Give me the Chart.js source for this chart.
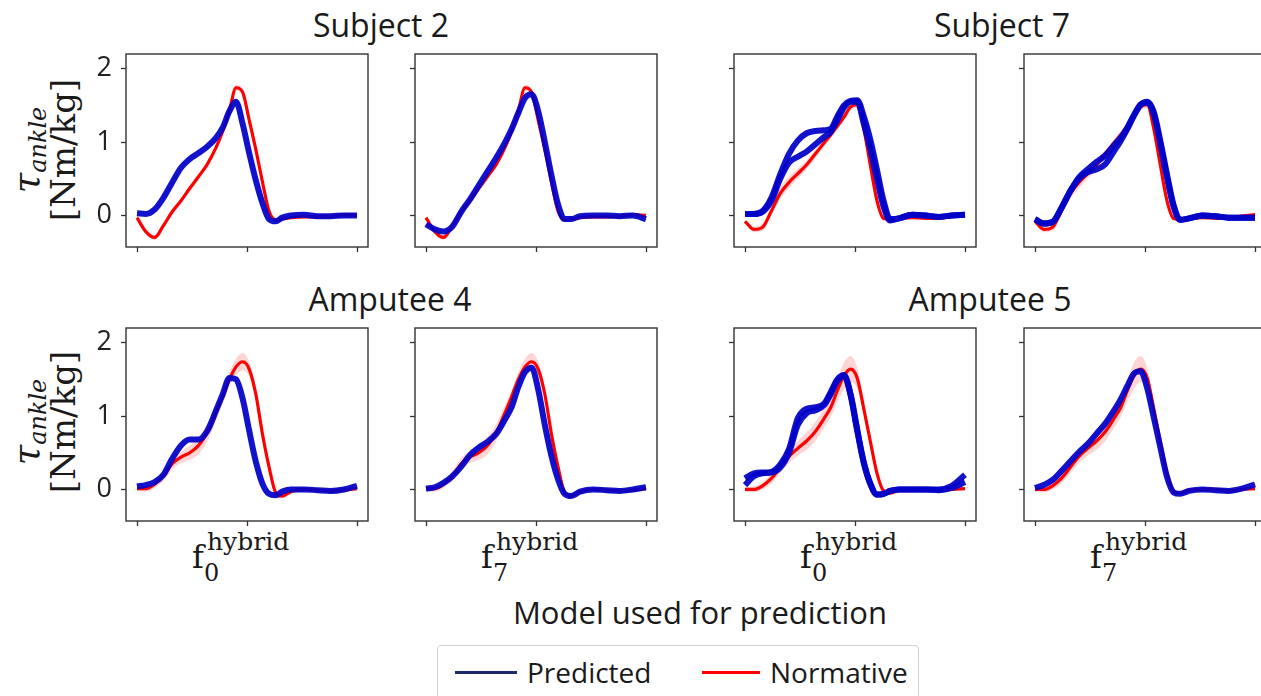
<!DOCTYPE html>
<html lang="en">
<head>
<meta charset="UTF-8">
<title>Ankle torque: predicted vs normative</title>
<script src="https://cdn.jsdelivr.net/npm/chart.js"></script>
<style>
  body { margin: 0; width: 1261px; height: 696px; overflow: hidden; background: #fff;
         position: relative; font-family: "Open Sans", sans-serif; color: #1a1a1a; }
  canvas.panel { position: absolute; }
  .title { position: absolute; font-size: 32px; line-height: 1; transform: translateX(-50%); white-space: nowrap; }
  .ylab { position: absolute; transform: translate(-50%, -50%) rotate(-90deg); text-align: center;
          font-family: "DejaVu Serif", serif; white-space: nowrap; line-height: 37px; }
  .ylab .l1 { font-size: 37px; font-style: italic; }
  .ylab .l1 sub { font-size: 24px; vertical-align: -0.3em; line-height: 0; }
  .ylab .l2 { font-size: 34px; }
  .xf { position: absolute; font-family: "DejaVu Serif", serif; line-height: 1; white-space: nowrap; }
  .legend { position: absolute; left: 437px; top: 645px; width: 480px; height: 70px;
            border: 1px solid #d0d0d0; border-radius: 4px; background: #fff; }
  .lline { position: absolute; height: 3px; }
  .ltext { position: absolute; font-size: 28px; line-height: 1; white-space: nowrap; }
</style>
</head>
<body>
<div class="title" style="left:381px; top:9px">Subject 2</div>
<div class="title" style="left:1002px; top:9px">Subject 7</div>
<div class="title" style="left:390px; top:283px">Amputee 4</div>
<div class="title" style="left:990px; top:283px">Amputee 5</div>

<div class="ylab" style="left:45px; top:150px"><div class="l1">τ<sub>ankle</sub></div><div class="l2">[Nm/kg]</div></div>
<div class="ylab" style="left:45px; top:422px"><div class="l1">τ<sub>ankle</sub></div><div class="l2">[Nm/kg]</div></div>

<div id="xlabels"></div>

<div class="title" style="left:700px; top:597px; font-size:31px">Model used for prediction</div>

<div class="legend"></div>
<div class="lline" style="left:455px; top:671px; width:62px; background:#1b2a6b"></div>
<div class="ltext" style="left:527px; top:658px">Predicted</div>
<div class="lline" style="left:702px; top:671px; width:58px; background:#ff0000"></div>
<div class="ltext" style="left:770px; top:658px">Normative</div>

<script>
// Gait phase (0 = heel strike, 1 = next heel strike)
const gait = [0, 0.04, 0.08, 0.12, 0.16, 0.2, 0.24, 0.28, 0.32, 0.36, 0.39, 0.42, 0.45,
              0.48, 0.51, 0.54, 0.57, 0.6, 0.63, 0.66, 0.7, 0.76, 0.82, 0.88, 0.94, 1.0];
const xTicks = [0, 0.5, 1];
const yTicks = [0, 1, 2];

// Normative ankle torque (mean) and its spread, per subject
const normSubject2 = [-0.03, -0.22, -0.3, -0.14, 0.05, 0.2, 0.37, 0.53, 0.7, 0.93, 1.15, 1.43, 1.74,
                      1.68, 1.3, 0.9, 0.46, 0.06, -0.06, -0.05, -0.03, -0.02, -0.02, -0.01, 0.01, 0.0];
const sdSubject2 = [0.02, 0.03, 0.03, 0.03, 0.03, 0.03, 0.03, 0.03, 0.03, 0.04, 0.04, 0.04, 0.04,
                    0.04, 0.04, 0.04, 0.03, 0.03, 0.03, 0.02, 0.02, 0.02, 0.02, 0.02, 0.02, 0.02];
const normSubject7 = [-0.08, -0.19, -0.16, 0.06, 0.3, 0.45, 0.57, 0.69, 0.84, 0.99, 1.1, 1.22, 1.34,
                      1.48, 1.51, 1.18, 0.68, 0.2, -0.04, -0.05, -0.04, -0.03, -0.04, -0.04, -0.01, 0.01];
const sdSubject7 = [0.02, 0.04, 0.05, 0.06, 0.08, 0.08, 0.07, 0.06, 0.06, 0.05, 0.05, 0.05, 0.05,
                    0.05, 0.05, 0.05, 0.04, 0.04, 0.03, 0.03, 0.02, 0.02, 0.02, 0.02, 0.02, 0.02];
const normAmputee4 = [0.01, 0.01, 0.07, 0.18, 0.35, 0.44, 0.5, 0.6, 0.78, 1.05, 1.27, 1.5, 1.67,
                      1.74, 1.64, 1.3, 0.76, 0.31, -0.04, -0.09, -0.03, 0.0, -0.01, -0.02, -0.01, 0.01];
const sdAmputee4 = [0.03, 0.04, 0.05, 0.07, 0.08, 0.08, 0.1, 0.12, 0.12, 0.1, 0.09, 0.1, 0.11,
                    0.12, 0.1, 0.08, 0.06, 0.05, 0.04, 0.03, 0.03, 0.02, 0.02, 0.02, 0.02, 0.02];
const normAmputee5 = [0.0, 0.0, 0.05, 0.15, 0.3, 0.45, 0.56, 0.66, 0.79, 0.97, 1.12, 1.35, 1.55,
                      1.64, 1.52, 1.1, 0.65, 0.22, -0.02, -0.05, -0.01, 0.0, 0.0, -0.02, 0.0, 0.01];
const sdAmputee5 = [0.03, 0.04, 0.05, 0.07, 0.08, 0.09, 0.1, 0.12, 0.13, 0.13, 0.13, 0.15, 0.18,
                    0.18, 0.14, 0.1, 0.07, 0.05, 0.04, 0.03, 0.03, 0.02, 0.02, 0.02, 0.02, 0.02];

// Predicted ankle torque (f0 = generic hybrid model, f7 = adapted hybrid model)
const predS2f0 = [0.03, 0.02, 0.08, 0.24, 0.45, 0.65, 0.77, 0.85, 0.94, 1.06, 1.2, 1.42, 1.55,
                  1.25, 0.85, 0.48, 0.17, -0.05, -0.08, -0.03, 0.0, 0.01, -0.01, -0.01, 0.0, 0.0];
const predS2f7 = [-0.12, -0.19, -0.22, -0.15, 0.05, 0.22, 0.41, 0.6, 0.79, 1.0, 1.18, 1.4, 1.6,
                  1.65, 1.42, 1.0, 0.55, 0.15, -0.05, -0.05, -0.01, 0.0, 0.0, -0.01, 0.0, -0.05];
const predS7f0 = [0.02, 0.02, 0.06, 0.24, 0.56, 0.84, 1.02, 1.12, 1.15, 1.16, 1.18, 1.35, 1.5,
                  1.56, 1.57, 1.35, 1.03, 0.62, 0.2, -0.05, -0.04, 0.01, 0.0, -0.02, 0.0, 0.01];
const predS7f0b = [0.02, 0.02, 0.05, 0.2, 0.5, 0.72, 0.8, 0.87, 0.97, 1.07, 1.14, 1.3, 1.47,
                   1.55, 1.55, 1.25, 0.9, 0.5, 0.12, -0.07, -0.04, 0.01, 0.0, -0.02, 0.0, 0.01];
const predS7f7 = [-0.05, -0.11, -0.09, 0.1, 0.33, 0.5, 0.59, 0.63, 0.7, 0.88, 1.02, 1.18, 1.36,
                  1.51, 1.55, 1.41, 1.01, 0.56, 0.14, -0.06, -0.04, 0.0, -0.01, -0.03, -0.03, -0.03];
const predS7f7b = [-0.05, -0.11, -0.09, 0.1, 0.33, 0.52, 0.63, 0.73, 0.82, 0.96, 1.06, 1.2, 1.37,
                   1.51, 1.54, 1.38, 0.97, 0.52, 0.12, -0.06, -0.04, 0.0, -0.01, -0.03, -0.03, -0.03];
const predA4f0 = [0.04, 0.06, 0.1, 0.2, 0.42, 0.6, 0.68, 0.68, 0.8, 1.08, 1.3, 1.52, 1.5,
                  1.24, 0.8, 0.38, 0.08, -0.06, -0.08, -0.03, 0.0, 0.0, -0.01, -0.02, 0.0, 0.05];
const predA4f7 = [0.01, 0.03, 0.09, 0.18, 0.31, 0.47, 0.57, 0.65, 0.76, 0.96, 1.13, 1.4, 1.6,
                  1.66, 1.36, 0.88, 0.46, 0.14, -0.06, -0.09, -0.03, 0.0, -0.01, -0.02, 0.0, 0.03];
const predA5f0 = [0.15, 0.22, 0.23, 0.24, 0.34, 0.55, 0.97, 1.1, 1.12, 1.17, 1.33, 1.5, 1.56,
                  1.3, 0.82, 0.37, 0.08, -0.07, -0.06, -0.02, 0.0, 0.0, 0.0, -0.01, 0.02, 0.1];
const predA5f0b = [0.06, 0.18, 0.22, 0.23, 0.3, 0.5, 0.88, 1.04, 1.08, 1.15, 1.3, 1.48, 1.55,
                   1.28, 0.8, 0.36, 0.07, -0.07, -0.06, -0.02, 0.0, 0.0, 0.0, 0.0, 0.05, 0.2];
const predA5f7 = [0.02, 0.06, 0.13, 0.25, 0.38, 0.51, 0.62, 0.76, 0.9, 1.08, 1.23, 1.41, 1.58,
                  1.61, 1.38, 0.98, 0.57, 0.17, -0.04, -0.06, -0.02, 0.0, -0.01, -0.02, 0.01, 0.07];

const modelSubs = ['0', '7', '0', '7'];

// Panel placement (axes box left/top in px); box is 242 x 193
const BOX_W = 242, BOX_H = 193, AX_W = 50, AX_H = 14, PAD = 4;
const panels = [
    { left: 126, top: 54, norm: normSubject2, sd: sdSubject2, pred: [predS2f0], labels: true },
    { left: 415, top: 54, norm: normSubject2, sd: sdSubject2, pred: [predS2f7] },
    { left: 734, top: 54, norm: normSubject7, sd: sdSubject7, pred: [predS7f0b, predS7f0] },
    { left: 1024, top: 54, norm: normSubject7, sd: sdSubject7, pred: [predS7f7b, predS7f7] },
    { left: 126, top: 328, norm: normAmputee4, sd: sdAmputee4, pred: [predA4f0], labels: true, xlab: 0 },
    { left: 415, top: 328, norm: normAmputee4, sd: sdAmputee4, pred: [predA4f7], xlab: 1 },
    { left: 734, top: 328, norm: normAmputee5, sd: sdAmputee5, pred: [predA5f0b, predA5f0], xlab: 2 },
    { left: 1024, top: 328, norm: normAmputee5, sd: sdAmputee5, pred: [predA5f7], xlab: 3 }
];

// Axes frame drawn on top of the curves
const framePlugin = {
    id: 'frame',
    afterDatasetsDraw(chart) {
        const { ctx, chartArea: a } = chart;
        ctx.save();
        ctx.strokeStyle = '#333';
        ctx.lineWidth = 1.4;
        ctx.strokeRect(a.left, a.top, a.right - a.left, a.bottom - a.top);
        ctx.restore();
    }
};

function toPoints(values) {
    return gait.map((x, i) => ({ x: x, y: values[i] }));
}

function line(values, color, width, order) {
    return {
        data: toPoints(values),
        borderColor: color,
        borderWidth: width,
        pointRadius: 0,
        fill: false,
        cubicInterpolationMode: 'monotone',
        order: order
    };
}

function createPanel(p) {
    const canvas = document.createElement('canvas');
    canvas.className = 'panel';
    canvas.width = BOX_W + AX_W + PAD;
    canvas.height = BOX_H + PAD + AX_H;
    canvas.style.left = (p.left - AX_W) + 'px';
    canvas.style.top = (p.top - PAD) + 'px';
    document.body.appendChild(canvas);

    const upper = p.norm.map((v, i) => v + p.sd[i]);
    const lower = p.norm.map((v, i) => v - p.sd[i]);

    const datasets = [
        Object.assign(line(upper, 'rgba(0,0,0,0)', 0, 3), { fill: '+1', backgroundColor: 'rgba(255, 0, 0, 0.17)' }),
        line(lower, 'rgba(0,0,0,0)', 0, 3),
        line(p.norm, '#ff0000', 3.2, 2)
    ];
    p.pred.forEach(series => datasets.push(line(series, 'rgba(0, 0, 200, 0.93)', 6, 1)));

    new Chart(canvas, {
        type: 'line',
        data: { datasets: datasets },
        options: {
            responsive: false,
            animation: false,
            layout: { padding: { top: PAD, right: PAD, left: 0, bottom: 0 } },
            plugins: { legend: { display: false }, tooltip: { enabled: false } },
            scales: {
                x: {
                    type: 'linear', min: -0.05, max: 1.05,
                    afterBuildTicks: s => { s.ticks = xTicks.map(v => ({ value: v })); },
                    afterFit: s => { s.height = AX_H; s.paddingLeft = 0; s.paddingRight = 0; },
                    ticks: { callback: () => '', maxRotation: 0 },
                    grid: { drawOnChartArea: false, drawTicks: true, tickLength: 5, tickColor: '#333', tickWidth: 1.3 },
                    border: { display: false }
                },
                y: {
                    type: 'linear', min: -0.43, max: 2.2,
                    afterBuildTicks: s => { s.ticks = yTicks.map(v => ({ value: v })); },
                    afterFit: s => { s.width = AX_W; s.paddingTop = 0; s.paddingBottom = 0; },
                    ticks: {
                        callback: v => p.labels ? String(v) : '',
                        color: '#222',
                        padding: 9,
                        font: { family: 'Open Sans', size: 27 }
                    },
                    grid: { drawOnChartArea: false, drawTicks: true, tickLength: 5, tickColor: '#333', tickWidth: 1.3 },
                    border: { display: false }
                }
            }
        },
        plugins: [framePlugin]
    });

    // f_n^hybrid label under the bottom-row panels
    if (p.xlab !== undefined) {
        const cx = p.left + BOX_W / 2 - 1;
        const holder = document.getElementById('xlabels');
        const parts = [
            { text: 'f', size: 32, left: cx - 54, top: 541 },
            { text: 'hybrid', size: 25, left: cx - 39, top: 529 },
            { text: modelSubs[p.xlab], size: 24, left: cx - 42, top: 561 }
        ];
        parts.forEach(part => {
            const el = document.createElement('div');
            el.className = 'xf';
            el.textContent = part.text;
            el.style.fontSize = part.size + 'px';
            el.style.left = part.left + 'px';
            el.style.top = part.top + 'px';
            holder.appendChild(el);
        });
    }
}

panels.forEach(createPanel);
</script>
</body>
</html>
